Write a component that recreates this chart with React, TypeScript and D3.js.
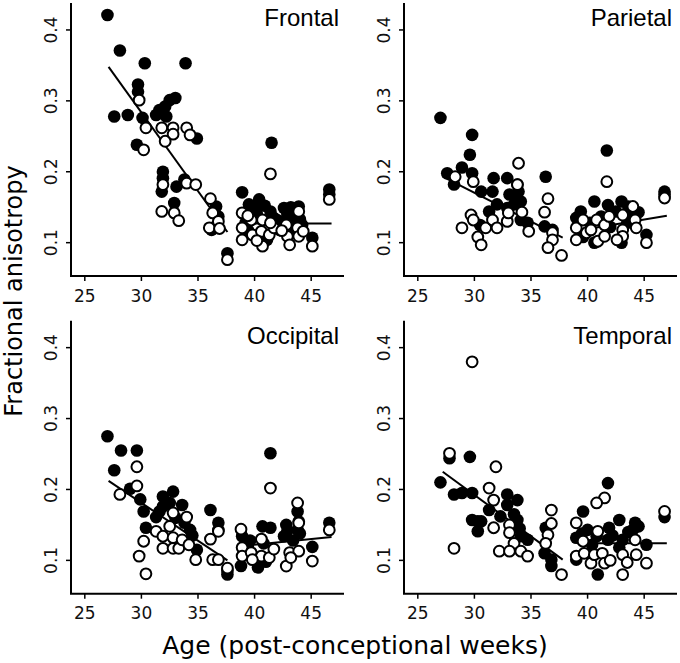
import React from 'react';
import * as d3 from 'd3';

// age (post-conceptional weeks) vs fractional anisotropy, four lobes
const ageTicks = [25, 30, 35, 40, 45];
const faTicks = [0.1, 0.2, 0.3, 0.4];
const lobes = ['Frontal', 'Parietal', 'Occipital', 'Temporal'];

type Pt = [number, number];

const frontalFilled: Pt[] = [
  [27.0, 0.421], [28.1, 0.371], [27.6, 0.278], [28.8, 0.280], [30.3, 0.353], [33.9, 0.353],
  [29.7, 0.323], [29.7, 0.313], [30.1, 0.276], [29.6, 0.238], [31.3, 0.280], [31.6, 0.287],
  [32.1, 0.292], [32.5, 0.301], [33.0, 0.304], [32.2, 0.278], [34.9, 0.247], [31.9, 0.200],
  [31.9, 0.191], [31.8, 0.172], [32.9, 0.156], [33.1, 0.179], [33.8, 0.189], [36.6, 0.151],
  [36.8, 0.137], [36.3, 0.121], [36.2, 0.118], [37.6, 0.085], [38.9, 0.171], [41.5, 0.241],
  [46.6, 0.175], [46.6, 0.168], [45.1, 0.107], [40.4, 0.161], [39.5, 0.154], [41.4, 0.144],
  [42.6, 0.149], [43.9, 0.151], [41.7, 0.135], [42.9, 0.139], [43.8, 0.144], [39.4, 0.118],
  [41.1, 0.104], [43.5, 0.130], [43.5, 0.114], [42.0, 0.132], [40.2, 0.140], [44.2, 0.125],
  [40.0, 0.148], [40.9, 0.152], [42.2, 0.118], [43.2, 0.150], [44.0, 0.133], [39.2, 0.128],
];
const frontalOpen: Pt[] = [
  [29.8, 0.301], [30.4, 0.262], [30.2, 0.231], [31.8, 0.262], [32.8, 0.262], [32.8, 0.253],
  [32.1, 0.243], [34.0, 0.262], [34.3, 0.252], [31.9, 0.182], [31.8, 0.144], [32.9, 0.142],
  [33.3, 0.131], [34.0, 0.184], [34.8, 0.182], [36.1, 0.162], [36.3, 0.142], [36.0, 0.121],
  [36.8, 0.130], [36.9, 0.120], [37.6, 0.076], [41.4, 0.197], [46.6, 0.161], [45.1, 0.095],
  [38.9, 0.142], [38.9, 0.121], [38.9, 0.104], [39.7, 0.132], [39.8, 0.111], [40.7, 0.132],
  [40.6, 0.116], [40.7, 0.095], [41.3, 0.111], [41.7, 0.121], [42.8, 0.125], [42.9, 0.109],
  [43.1, 0.097], [43.9, 0.144], [43.8, 0.121], [43.9, 0.109], [41.4, 0.128], [40.2, 0.103],
  [42.4, 0.117], [44.3, 0.116], [39.4, 0.138],
];

const parietalFilled: Pt[] = [
  [27.0, 0.276], [29.8, 0.252], [29.6, 0.224], [27.6, 0.198], [28.2, 0.182], [28.9, 0.206],
  [29.8, 0.198], [30.6, 0.172], [31.7, 0.191], [31.6, 0.172], [31.3, 0.144], [32.0, 0.154],
  [32.9, 0.191], [33.8, 0.182], [33.1, 0.168], [33.7, 0.163], [34.1, 0.158], [33.5, 0.154],
  [32.9, 0.149], [34.1, 0.132], [34.7, 0.128], [36.3, 0.193], [36.2, 0.123], [36.9, 0.118],
  [30.5, 0.125], [41.7, 0.230], [45.2, 0.111], [46.8, 0.172], [46.8, 0.168], [40.6, 0.158],
  [41.8, 0.153], [43.0, 0.158], [43.6, 0.151], [39.4, 0.144], [39.0, 0.135], [42.5, 0.144],
  [43.0, 0.100], [41.2, 0.137], [44.0, 0.137], [40.6, 0.100], [33.9, 0.172], [40.2, 0.128],
  [42.0, 0.122], [43.5, 0.128], [44.5, 0.143], [39.6, 0.108],
];
const parietalOpen: Pt[] = [
  [28.3, 0.193], [29.9, 0.186], [28.9, 0.121], [29.7, 0.139], [29.9, 0.132], [30.3, 0.108],
  [30.6, 0.097], [31.0, 0.121], [31.6, 0.132], [32.0, 0.121], [32.9, 0.130], [33.0, 0.142],
  [33.9, 0.212], [33.8, 0.182], [34.2, 0.143], [34.8, 0.116], [36.5, 0.162], [36.2, 0.143],
  [36.9, 0.114], [36.9, 0.104], [36.5, 0.093], [37.7, 0.082], [41.7, 0.186], [45.2, 0.100],
  [46.8, 0.163], [39.0, 0.121], [39.0, 0.104], [39.6, 0.132], [39.9, 0.114], [40.8, 0.132],
  [40.9, 0.102], [41.5, 0.125], [41.9, 0.137], [43.1, 0.139], [43.1, 0.118], [43.1, 0.109],
  [44.0, 0.151], [44.2, 0.132], [44.3, 0.121], [41.5, 0.109], [40.3, 0.118], [42.6, 0.104],
];

const occipitalFilled: Pt[] = [
  [27.0, 0.275], [27.6, 0.227], [28.2, 0.255], [29.6, 0.255], [29.0, 0.201], [29.9, 0.186],
  [30.2, 0.169], [30.4, 0.146], [31.3, 0.161], [31.9, 0.190], [31.9, 0.176], [31.6, 0.169],
  [32.8, 0.197], [32.5, 0.181], [33.6, 0.178], [33.8, 0.153], [34.3, 0.143], [34.9, 0.115],
  [36.1, 0.171], [36.8, 0.153], [36.8, 0.143], [37.6, 0.085], [37.6, 0.080], [41.4, 0.251],
  [45.1, 0.119], [46.6, 0.153], [38.8, 0.092], [40.3, 0.090], [43.8, 0.169], [43.9, 0.155],
  [43.8, 0.143], [38.9, 0.134], [40.7, 0.148], [41.4, 0.146], [42.8, 0.150], [42.6, 0.134],
  [39.4, 0.120], [33.0, 0.160], [34.5, 0.135], [39.6, 0.128], [40.8, 0.124], [42.9, 0.142],
  [43.4, 0.128], [44.0, 0.138], [41.0, 0.098],
];
const occipitalOpen: Pt[] = [
  [28.1, 0.193], [29.6, 0.232], [29.6, 0.205], [29.8, 0.106], [30.2, 0.127], [30.4, 0.081],
  [31.3, 0.141], [31.9, 0.134], [31.9, 0.117], [32.5, 0.148], [32.8, 0.167], [32.8, 0.132],
  [32.8, 0.117], [33.3, 0.117], [33.6, 0.129], [34.0, 0.161], [34.2, 0.122], [34.8, 0.101],
  [36.1, 0.130], [36.3, 0.101], [36.8, 0.141], [36.8, 0.101], [37.6, 0.089], [41.4, 0.202],
  [43.8, 0.181], [43.9, 0.153], [45.1, 0.099], [46.6, 0.143], [38.8, 0.144], [38.9, 0.118],
  [38.9, 0.106], [39.7, 0.111], [40.6, 0.130], [40.6, 0.106], [41.3, 0.104], [41.7, 0.116],
  [43.1, 0.111], [42.8, 0.092], [43.9, 0.113], [43.2, 0.104], [39.8, 0.101],
];

const temporalFilled: Pt[] = [
  [27.8, 0.244], [29.6, 0.246], [27.0, 0.210], [28.2, 0.193], [28.9, 0.195], [29.8, 0.195],
  [29.8, 0.157], [30.3, 0.155], [30.6, 0.155], [30.3, 0.141], [31.3, 0.171], [32.3, 0.162],
  [32.9, 0.193], [33.8, 0.185], [32.9, 0.178], [33.8, 0.157], [34.1, 0.134], [34.7, 0.129],
  [36.3, 0.146], [36.2, 0.110], [36.8, 0.101], [36.8, 0.092], [41.8, 0.209], [39.6, 0.169],
  [46.8, 0.161], [45.2, 0.122], [39.0, 0.132], [40.0, 0.143], [40.8, 0.134], [41.9, 0.146],
  [42.8, 0.157], [44.2, 0.153], [44.0, 0.143], [43.1, 0.129], [40.9, 0.080], [39.0, 0.101],
  [41.8, 0.129], [33.5, 0.165], [34.0, 0.145], [39.5, 0.138], [40.4, 0.122], [42.2, 0.135],
  [43.6, 0.140], [44.5, 0.148], [42.8, 0.118],
];
const temporalOpen: Pt[] = [
  [29.8, 0.380], [27.8, 0.251], [31.9, 0.232], [28.2, 0.117], [31.3, 0.202], [31.7, 0.185],
  [31.7, 0.146], [33.1, 0.150], [33.1, 0.139], [33.5, 0.124], [32.2, 0.113], [33.1, 0.113],
  [34.1, 0.113], [34.7, 0.106], [36.8, 0.171], [36.8, 0.152], [36.5, 0.136], [36.3, 0.124],
  [37.7, 0.080], [41.5, 0.188], [40.8, 0.181], [39.0, 0.153], [46.8, 0.169], [45.2, 0.096],
  [39.6, 0.127], [39.0, 0.106], [39.7, 0.110], [40.3, 0.096], [40.6, 0.108], [41.3, 0.110],
  [41.5, 0.096], [43.1, 0.108], [43.1, 0.080], [44.2, 0.129], [44.3, 0.108], [40.9, 0.141],
  [42.0, 0.100], [43.5, 0.097],
];

// fitted segments: preterm decline, then term plateau
const frontalFit: Pt[][] = [[[27.1, 0.348], [37.6, 0.115]], [[38.7, 0.127], [46.8, 0.127]]];
const parietalFit: Pt[][] = [[[27.2, 0.193], [37.8, 0.107]], [[38.8, 0.116], [47.0, 0.138]]];
const occipitalFit: Pt[][] = [[[27.1, 0.212], [37.6, 0.100]], [[38.6, 0.120], [46.8, 0.133]]];
const temporalFit: Pt[][] = [[[27.2, 0.225], [37.8, 0.101]], [[39.1, 0.124], [47.0, 0.124]]];

const panels = [
  { name: lobes[0], filled: frontalFilled, open: frontalOpen, fit: frontalFit, left: 71, top: 3 },
  { name: lobes[1], filled: parietalFilled, open: parietalOpen, fit: parietalFit, left: 404, top: 3 },
  { name: lobes[2], filled: occipitalFilled, open: occipitalOpen, fit: occipitalFit, left: 71, top: 320.7 },
  { name: lobes[3], filled: temporalFilled, open: temporalOpen, fit: temporalFit, left: 404, top: 320.7 },
];

const W = 273;
const H = 273;
const tickFont = '"DejaVu Sans", Verdana, sans-serif';

function Panel({ p }: { p: (typeof panels)[number] }) {
  const x = d3.scaleLinear().domain([23.78, 47.9]).range([0, W]);
  const y = d3.scaleLinear().domain([0.053, 0.438]).range([H, 0]);
  const line = d3.line<Pt>().x((d) => x(d[0])).y((d) => y(d[1]));

  return (
    <g transform={`translate(${p.left},${p.top})`}>
      {/* fit lines */}
      {p.fit.map((seg, i) => (
        <path key={i} d={line(seg) || ''} fill="none" stroke="#000" strokeWidth={2} />
      ))}
      {p.filled.map((d, i) => (
        <circle key={'f' + i} cx={x(d[0])} cy={y(d[1])} r={6.3} fill="#000" />
      ))}
      {p.open.map((d, i) => (
        <circle key={'o' + i} cx={x(d[0])} cy={y(d[1])} r={5.4} fill="#fff" stroke="#000" strokeWidth={2} />
      ))}

      {/* axes */}
      <path d={`M0,0V${H}H${W}`} fill="none" stroke="#000" strokeWidth={2} />
      {ageTicks.map((t) => (
        <g key={t}>
          <line x1={x(t)} x2={x(t)} y1={H} y2={H + 5} stroke="#000" strokeWidth={1.5} />
          <text x={x(t)} y={H + 25.5} textAnchor="middle" fontFamily={tickFont} fontSize={17} fill="#111">
            {t}
          </text>
        </g>
      ))}
      {faTicks.map((t) => (
        <g key={t}>
          <line x1={-5} x2={0} y1={y(t)} y2={y(t)} stroke="#000" strokeWidth={1.5} />
          <text
            transform={`translate(-14,${y(t)}) rotate(-90)`}
            textAnchor="middle"
            fontFamily={tickFont}
            fontSize={17}
            fill="#111"
          >
            {t.toFixed(1)}
          </text>
        </g>
      ))}
      <text x={W - 5} y={23} textAnchor="end" fontFamily='"Liberation Sans", Arial, sans-serif' fontSize={24} fill="#000">
        {p.name}
      </text>
    </g>
  );
}

export default function App() {
  return (
    <svg width={680} height={663} style={{ position: 'absolute', left: 0, top: 0, background: '#fff' }}>
      <rect width={680} height={663} fill="#fff" />
      {panels.map((p) => (
        <Panel key={p.name} p={p} />
      ))}
      <text
        transform="translate(22,291) rotate(-90)"
        textAnchor="middle"
        fontFamily={tickFont}
        fontSize={24}
        fill="#000"
      >
        Fractional anisotropy
      </text>
      <text x={355} y={654} textAnchor="middle" fontFamily={tickFont} fontSize={25} fill="#000">
        Age (post-conceptional weeks)
      </text>
    </svg>
  );
}
